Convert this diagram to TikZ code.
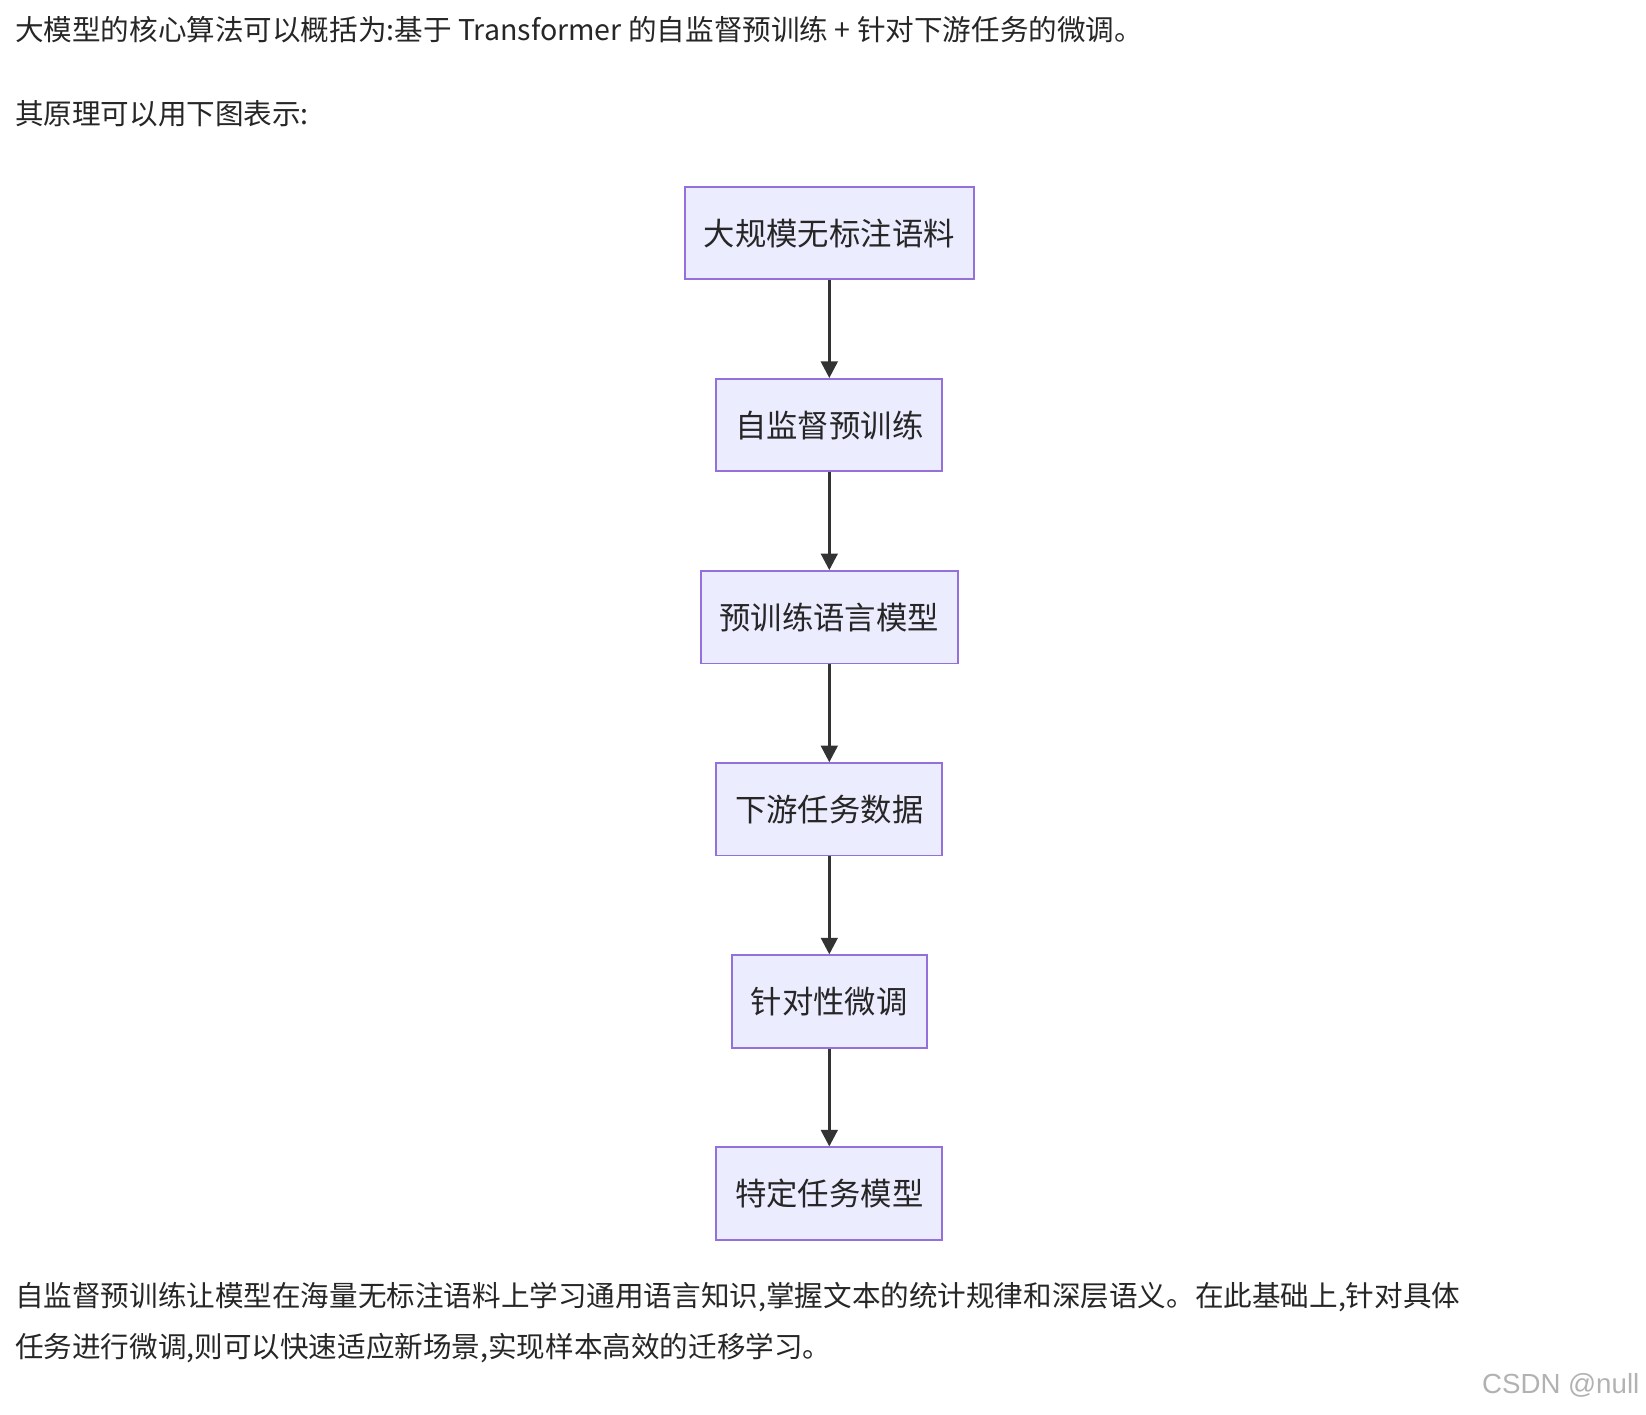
\documentclass[tikz,border=0pt]{standalone}
\usepackage{fontspec}
\newfontfamily\cjk{Noto Sans CJK SC}
\usetikzlibrary{positioning,arrows.meta}
\definecolor{boxfill}{HTML}{ECECFF}
\definecolor{boxline}{HTML}{9370DB}
\definecolor{arrowc}{HTML}{333333}
\tikzset{
  stepbox/.style = {draw=boxline,fill=boxfill,line width=1pt,minimum height=88*0.02cm,
    inner xsep=0.36cm,font=\cjk\fontsize{17}{20}\selectfont,text=black!85},
  flow/.style = {-{Triangle[length=9pt,width=9pt]},line width=1.6pt,draw=arrowc},
  para/.style = {anchor=west,inner sep=0pt,font=\cjk\fontsize{15.5}{18}\selectfont,text=black!85}
}
\begin{document}
\begin{tikzpicture}[x=0.02cm,y=-0.02cm]
  \useasboundingbox (0,0) rectangle (1568,1347);
  % text above
  \node[para] (intro) at (14,28) {大模型的核心算法可以概括为:基于 Transformer 的自监督预训练 + 针对下游任务的微调。};
  \node[para] (lead) at (14,108) {其原理可以用下图表示:};
  % flow
  \node[stepbox] (corpus) at (790,222) {大规模无标注语料};
  \node[stepbox] (pretrain) at (790,405) {自监督预训练};
  \node[stepbox] (plm) at (790,588) {预训练语言模型};
  \node[stepbox] (taskdata) at (790,771) {下游任务数据};
  \node[stepbox] (finetune) at (790,954) {针对性微调};
  \node[stepbox] (taskmodel) at (790,1137) {特定任务模型};
  \foreach \a/\b in {corpus/pretrain,pretrain/plm,plm/taskdata,taskdata/finetune,finetune/taskmodel}
    \draw[flow] (\a) -- (\b);
  % text below
  \node[para] (body1) at (14,1236) {自监督预训练让模型在海量无标注语料上学习通用语言知识,掌握文本的统计规律和深层语义。在此基础上,针对具体};
  \node[para] (body2) at (14,1284) {任务进行微调,则可以快速适应新场景,实现样本高效的迁移学习。};
  \node[anchor=east,inner sep=0pt,font=\fontspec{Liberation Sans}\fontsize{15}{18}\selectfont,text=black!30] (mark) at (1562,1320) {CSDN @null};
\end{tikzpicture}
\end{document}
